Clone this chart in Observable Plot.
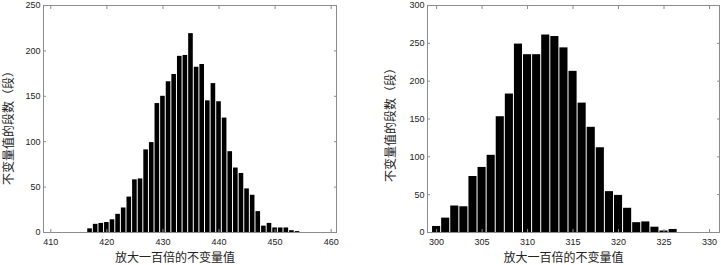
<!DOCTYPE html>
<html><head><meta charset="utf-8">
<script src="https://cdn.jsdelivr.net/npm/d3@7"></script>
<script src="https://cdn.jsdelivr.net/npm/@observablehq/plot@0.6"></script>
<style>
body{margin:0;background:#fff;}
#wrap{position:relative;width:721px;height:265px;overflow:hidden;}
#wrap > div{position:absolute;top:0;}
</style></head><body>
<div id="wrap"><div id="a" style="left:0"></div><div id="b" style="left:360px"></div></div>
<script>
const xLabel = "放大一百倍的不变量值";
const yLabel = "不变量值的段数（段）";

const leftBins = [417,418,419,420,421,422,423,424,425,426,427,428,429,430,431,432,433,434,435,436,437,438,439,440,441,442,443,444,445,446,447,448,449,450,451,452,453,454];
const leftCounts = [4,9,10,11,14,20,27,39,58,59,91,99,142,150,166,174,194,195,219,182,185,145,164,144,126,89,71,65,48,41,23,7,10,5,5,5,2,1];
const leftXTicks = [410,420,430,440,450,460];
const leftYTicks = [0,50,100,150,200,250];

const rightBins = [300,301,302,303,304,305,306,307,308,309,310,311,312,313,314,315,316,317,318,319,320,321,322,323,324,325,326];
const rightCounts = [8,19,35,34,74,86,102,153,183,249,235,235,261,259,244,213,171,139,112,54,49,32,13,14,7,2,4];
const rightXTicks = [300,305,310,315,320,325,330];
const rightYTicks = [0,50,100,150,200,250,300];

const frameColor = "#8c8c8c";
const cjk = "'Noto Sans CJK SC', sans-serif";

function hist(o) {
  const data = o.bins.map((b, i) => ({b, c: o.counts[i]}));
  return Plot.plot({
    width: o.width, height: 265,
    marginLeft: o.marginLeft, marginRight: o.marginRight, marginTop: 5, marginBottom: 33,
    style: {fontFamily: "'Liberation Sans', Arial, sans-serif", fontSize: "9px", color: "#222", background: "#fff", overflow: "visible"},
    x: {domain: o.xDomain},
    y: {domain: o.yDomain},
    marks: [
      Plot.rectY(data, {x1: d => d.b - 0.5, x2: d => d.b + 0.5, y: "c", fill: "#000", insetLeft: 0.5, insetRight: 0.5}),
      Plot.frame({stroke: frameColor}),
      Plot.axisX(o.xTicks, {anchor: "bottom", tickSize: -3, tickPadding: 9.5, stroke: frameColor, fill: "#222", label: null}),
      Plot.axisX(o.xTicks, {anchor: "top", tickSize: -3, stroke: frameColor, tickFormat: () => "", label: null}),
      Plot.axisY(o.yTicks, {anchor: "left", tickSize: -3, tickPadding: 6, stroke: frameColor, fill: "#222", label: null}),
      Plot.axisY(o.yTicks, {anchor: "right", tickSize: -3, stroke: frameColor, tickFormat: () => "", label: null}),
      Plot.text([xLabel], {frameAnchor: "bottom", textAnchor: "middle", lineAnchor: "middle", dy: 26, dx: o.xlabDx, fontSize: 12, fontFamily: cjk, fill: "#222"}),
      Plot.text([yLabel], {frameAnchor: "left", textAnchor: "middle", lineAnchor: "middle", rotate: -90, dx: o.ylabDx, dy: o.ylabDy, fontSize: 12, fontFamily: cjk, fill: "#222"})
    ]
  });
}

document.getElementById("a").appendChild(hist({
  bins: leftBins, counts: leftCounts, xTicks: leftXTicks, yTicks: leftYTicks,
  xDomain: [408.7, 460.95], yDomain: [0, 250],
  width: 360, marginLeft: 43, marginRight: 24,
  xlabDx: -15, ylabDx: -34, ylabDy: 6
}));
document.getElementById("b").appendChild(hist({
  bins: rightBins, counts: rightCounts, xTicks: rightXTicks, yTicks: rightYTicks,
  xDomain: [299, 331.1], yDomain: [0, 300],
  width: 361, marginLeft: 67, marginRight: 2,
  xlabDx: -10, ylabDx: -36, ylabDy: 3
}));
</script>
</body></html>
